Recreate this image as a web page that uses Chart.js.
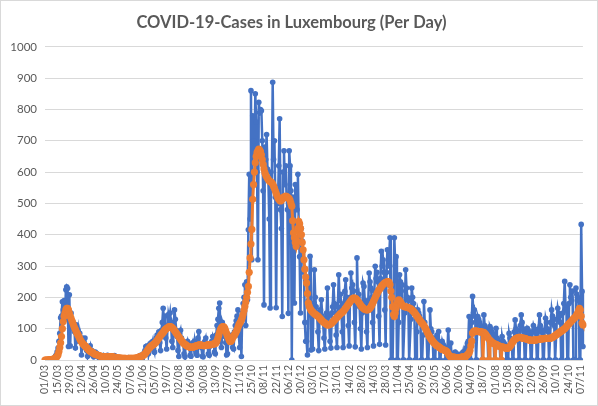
<!DOCTYPE html>
<html>
<head>
<meta charset="utf-8">
<script src="https://cdn.jsdelivr.net/npm/chart.js@4.4.0/dist/chart.umd.min.js"></script>
<style>
  html, body { margin: 0; padding: 0; background: #fff; }
  #wrap { width: 598px; height: 406px; }
</style>
</head>
<body>
<div id="wrap"><canvas id="chart" width="598" height="406"></canvas></div>
<script>
// first day of the series: 01/03/2020, one value per day
const startDay = new Date(2020, 2, 1);

const tickLabels = [
  '01/03','15/03','29/03','12/04','26/04','10/05','24/05','07/06','21/06','05/07',
  '19/07','02/08','16/08','30/08','13/09','27/09','11/10','25/10','08/11','22/11',
  '06/12','20/12','03/01','17/01','31/01','14/02','28/02','14/03','28/03','11/04',
  '25/04','09/05','23/05','06/06','20/06','04/07','18/07','01/08','15/08','29/08',
  '12/09','26/09','10/10','24/10','07/11'
];

// daily cases, one row per week (Sun..Sat)
const dailyCases = [
  0,0,1,0,1,1,1,
  2,2,3,5,7,12,17,
  26,38,60,85,135,140,186,
  160,190,130,224,234,228,43,
  208,45,150,118,123,100,90,
  38,112,75,95,60,85,65,
  16,70,45,55,70,40,30,
  12,25,37,45,20,30,15,
  10,15,25,20,12,18,8,
  4,10,12,8,14,6,10,
  5,8,15,10,6,12,7,
  3,9,6,14,10,5,8,
  2,5,8,6,4,7,3,
  2,4,6,3,5,8,4,
  1,3,5,7,4,6,5,
  2,6,9,12,8,15,10,
  5,15,22,30,43,38,45,
  20,40,50,55,48,60,35,
  25,58,70,80,65,90,55,
  30,95,120,165,110,140,70,
  35,105,145,130,150,120,60,
  40,90,160,130,95,75,30,
  11,85,95,70,60,55,20,
  10,55,50,60,45,40,15,
  12,45,55,40,60,35,20,
  15,70,91,50,45,40,12,
  10,55,60,70,50,45,20,
  15,45,55,60,75,65,25,
  20,80,110,130,165,182,60,
  40,120,110,90,75,55,16,
  20,60,75,70,55,80,40,
  35,90,110,125,140,160,80,
  40,120,11,150,180,200,240,
  110,250,192,416,593,450,860,
  320,780,700,650,850,760,600,
  320,823,790,800,796,700,540,
  176,680,640,720,610,580,450,
  166,600,560,887,640,700,520,
  167,540,500,620,770,480,420,
  139,600,668,560,620,520,480,
  149,668,620,540,0,520,420,
  182,560,520,480,593,430,330,
  150,420,380,350,280,120,60,
  60,16,190,250,331,32,140,
  35,180,288,200,170,150,90,
  30,150,160,192,140,120,70,
  35,130,150,230,140,110,60,
  38,150,170,240,180,150,80,
  40,170,272,190,210,160,90,
  40,180,219,256,200,190,110,
  45,200,278,230,240,220,120,
  42,180,326,200,210,170,100,
  35,150,246,235,190,180,90,
  40,190,278,250,230,200,120,
  45,220,299,260,280,250,140,
  50,260,347,300,320,280,160,
  48,280,352,300,330,390,0,
  0,0,170,390,300,330,0,
  0,120,272,250,220,240,0,
  0,150,288,230,200,190,0,
  0,130,230,200,180,160,0,
  0,90,160,150,140,130,0,
  0,80,187,120,100,90,0,
  0,60,160,100,90,70,0,
  0,0,70,80,60,91,0,
  0,40,60,50,45,40,0,
  0,30,96,30,25,54,0,
  0,15,20,25,18,20,0,
  0,10,15,20,12,25,0,
  0,30,40,53,60,139,0,
  0,120,203,150,160,139,0,
  0,139,130,120,110,100,0,
  0,144,110,100,95,90,0,
  0,107,100,90,85,80,0,
  0,101,70,65,60,55,0,
  0,75,60,55,50,45,0,
  0,0,85,70,60,55,0,
  0,90,128,100,95,80,0,
  0,110,144,120,100,90,0,
  0,80,101,95,85,75,0,
  0,90,110,100,95,85,0,
  0,100,144,110,90,95,0,
  0,95,133,120,100,90,0,
  0,120,160,140,130,110,0,
  0,130,165,150,140,120,0,
  0,150,180,251,170,160,0,
  0,180,240,200,190,220,0,
  0,0,230,210,200,190,0,
  0,433,219,43
];

// orange line (average), same rows
const avgCases = [
  0,0,0,0,0,1,1,
  1,2,2,3,4,6,9,
  12,17,27,40,55,75,100,
  123,140,150,160,165,165,160,
  150,140,133,125,118,110,103,
  97,90,85,80,74,68,62,
  58,54,50,48,45,42,39,
  36,33,30,28,27,25,23,
  21,19,18,17,16,15,14,
  13,12,12,11,11,10,10,
  10,10,10,10,11,11,11,
  10,10,9,9,8,8,7,
  7,6,6,6,5,5,5,
  5,5,5,4,4,5,5,
  5,5,5,5,5,5,6,
  6,7,8,9,10,11,12,
  13,15,17,20,23,27,31,
  35,38,41,44,46,48,50,
  52,55,58,62,66,70,74,
  78,82,85,88,92,96,99,
  101,103,105,107,107,106,104,
  101,98,94,90,86,82,78,
  74,70,66,62,58,55,52,
  50,48,46,44,43,42,41,
  40,40,41,42,43,44,45,
  46,47,48,48,48,47,47,
  46,46,46,47,47,48,48,
  48,49,49,50,50,51,52,
  53,56,62,70,80,90,98,
  103,106,107,105,100,92,84,
  76,70,64,59,60,65,72,
  76,80,85,90,96,104,112,
  117,122,128,136,146,158,171,
  185,200,216,235,280,326,370,
  417,513,560,600,630,650,662,
  668,673,670,665,655,640,625,
  610,598,590,585,580,576,572,
  570,568,566,562,555,548,540,
  532,525,518,513,510,508,510,
  514,518,520,522,523,522,520,
  518,515,510,500,491,445,406,
  390,375,363,380,420,443,435,
  420,400,375,352,320,290,265,
  246,212,182,172,165,160,156,
  153,150,148,146,144,142,140,
  137,134,131,128,125,122,120,
  118,116,114,112,112,113,114,
  116,118,121,124,127,130,133,
  136,139,142,145,148,150,152,
  155,158,162,166,170,174,178,
  182,186,190,193,196,198,198,
  197,195,192,188,184,180,176,
  172,169,166,164,162,161,160,
  160,161,163,166,170,175,181,
  187,193,199,205,211,217,222,
  226,230,234,238,241,244,246,
  248,249,250,250,248,240,220,
  200,170,145,139,150,165,180,
  188,192,190,185,180,176,173,
  171,170,170,169,168,167,166,
  165,163,161,158,155,152,148,
  144,140,136,132,128,124,120,
  117,114,110,105,100,94,88,
  82,77,72,68,64,60,57,
  54,51,48,46,44,42,40,
  38,36,34,33,32,31,30,
  28,25,20,15,11,10,10,
  0,9,9,8,8,8,8,
  0,8,8,9,9,10,10,
  0,12,14,16,20,22,30,
  45,60,86,91,92,93,92,
  92,91,91,90,90,90,89,
  0,88,85,82,78,74,70,
  0,63,60,57,55,53,52,
  0,50,48,46,45,44,43,
  0,42,41,40,39,38,37,
  37,38,40,43,47,52,57,
  61,64,67,69,70,71,72,
  72,72,71,70,70,69,69,
  68,67,66,65,64,64,63,
  63,63,63,64,64,64,65,
  65,66,66,67,67,68,68,
  68,69,69,69,69,69,69,
  69,70,71,72,74,76,78,
  80,82,84,86,88,90,92,
  94,96,98,100,103,106,110,
  113,116,119,122,125,128,131,
  134,136,140,145,150,158,165,
  160,140,118,112
];

const days = dailyCases.map((_, i) => {
  const d = new Date(startDay.getFullYear(), startDay.getMonth(), startDay.getDate() + i);
  return String(d.getDate()).padStart(2, '0') + '/' + String(d.getMonth() + 1).padStart(2, '0');
});

const textGrey = '#595959';

const frame = {
  id: 'frame',
  beforeDraw(c) {
    const g = c.ctx;
    g.save();
    g.fillStyle = '#fff';
    g.fillRect(0, 0, c.width, c.height);
    g.restore();
  },
  afterDraw(c) {
    const g = c.ctx;
    g.save();
    g.strokeStyle = '#d9d9d9';
    g.lineWidth = 1;
    g.strokeRect(0.5, 0.5, c.width - 1, c.height - 1);
    g.restore();
  }
};

new Chart(document.getElementById('chart').getContext('2d'), {
  type: 'line',
  data: {
    labels: days,
    datasets: [
      { label: 'Cases', data: dailyCases, borderColor: '#4472C4', backgroundColor: '#4472C4',
        borderWidth: 2.5, pointRadius: 2.8, pointBorderWidth: 0, order: 2 },
      { label: 'Average', data: avgCases, borderColor: '#ED7D31', backgroundColor: '#ED7D31',
        borderWidth: 3, pointRadius: 3.6, pointBorderWidth: 0, order: 1 }
    ]
  },
  options: {
    responsive: false,
    animation: false,
    devicePixelRatio: 1,
    layout: { padding: { left: 0, right: 15, top: 0, bottom: 0 } },
    plugins: {
      legend: { display: false },
      tooltip: { enabled: false },
      title: {
        display: true,
        text: 'COVID-19-Cases in Luxembourg (Per Day)',
        color: textGrey,
        font: { family: 'Lato', size: 16.5, weight: 'bold' },
        padding: { top: 13, bottom: 14 }
      }
    },
    scales: {
      x: {
        grid: { display: false, drawTicks: false },
        border: { display: false },
        ticks: {
          autoSkip: false, minRotation: 90, maxRotation: 90, padding: 5,
          color: textGrey, font: { family: 'Lato', size: 10.5 },
          callback: (v, i) => (i % 14 === 0 ? tickLabels[i / 14] : null)
        },
        afterFit: s => { s.height = 46; }
      },
      y: {
        min: 0, max: 1000,
        grid: { color: '#d9d9d9', drawTicks: false },
        border: { display: false },
        ticks: {
          stepSize: 100, padding: 8, color: textGrey, font: { family: 'Lato', size: 11.5 },
          callback: v => String(v)
        },
        afterFit: s => { s.width = 45; }
      }
    }
  },
  plugins: [frame]
});
</script>
</body>
</html>
